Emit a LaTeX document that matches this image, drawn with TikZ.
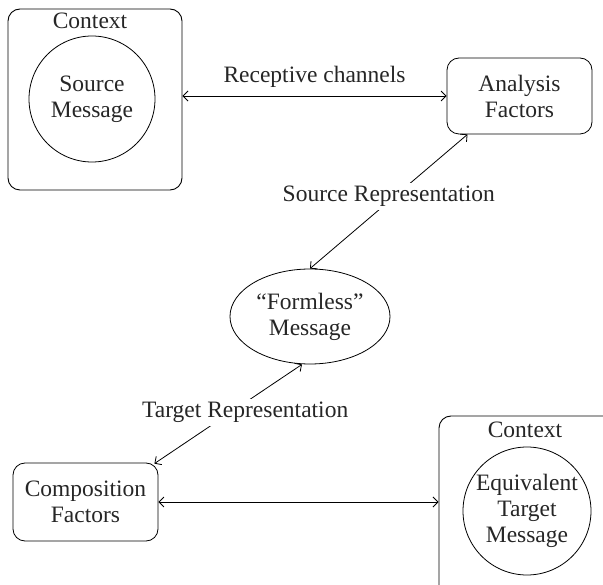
\documentclass[tikz,border=0pt]{standalone}
\usepackage{fontspec}
\setmainfont{Liberation Serif}
\usetikzlibrary{arrows.meta,shapes.geometric}
\begin{document}
\begin{tikzpicture}[x=1pt,y=-1pt,
  every node/.style={font=\fontsize{23.5}{26}\selectfont, align=center, inner sep=0pt, text=black!85},
  ctxbox/.style={draw, rounded corners=12pt, line width=0.9pt},
  rbox/.style={draw, rounded corners=12pt, line width=0.8pt},
  circ/.style={draw, circle, line width=0.8pt},
  conn/.style={{Straight Barb[length=5pt,width=10pt]}-{Straight Barb[length=5pt,width=10pt]}, line width=0.8pt},
  lbl/.style={fill=white, inner sep=3pt}]
\useasboundingbox (0,0) rectangle (603,585);
\clip (0,0) rectangle (603,585);
% top-left context
\node[ctxbox, minimum width=174pt, minimum height=181pt] (ctxA) at (95,99.5) {};
\node (ctxAlbl) at (90,21) {Context};
\node[circ, minimum size=126pt] (src) at (92,99) {Source\\Message};
% analysis
\node[rbox, minimum width=145pt, minimum height=76pt] (ana) at (519.5,96) {Analysis\\Factors};
% formless
\node[draw, ellipse, minimum width=160pt, minimum height=95pt, line width=0.8pt] (fm) at (310,316.5) {``Formless''\\Message};
% composition
\node[rbox, minimum width=145pt, minimum height=78pt] (comp) at (85.5,502) {Composition\\Factors};
% bottom-right context
\node[ctxbox, minimum width=180pt, minimum height=184pt] (ctxB) at (529,508) {};
\node (ctxBlbl) at (525,430) {Context};
\node[circ, minimum size=128pt] (eq) at (527,511) {Equivalent\\Target\\Message};
% connectors
\draw[conn] (ctxA.east |- ana.west) -- (ana.west) node[midway, yshift=19pt] {Receptive channels};
\draw[conn] ([xshift=-52pt]ana.south) -- (fm.north) node[lbl, midway, yshift=5pt] {Source Representation};
\draw[conn] ([xshift=-8pt]fm.south) -- ([xshift=-4pt,yshift=-1pt]comp.north east) node[lbl, pos=0.385, yshift=-10pt] {Target Representation};
\draw[conn] (comp.east) -- (ctxB.west |- comp.east);
\end{tikzpicture}
\end{document}
